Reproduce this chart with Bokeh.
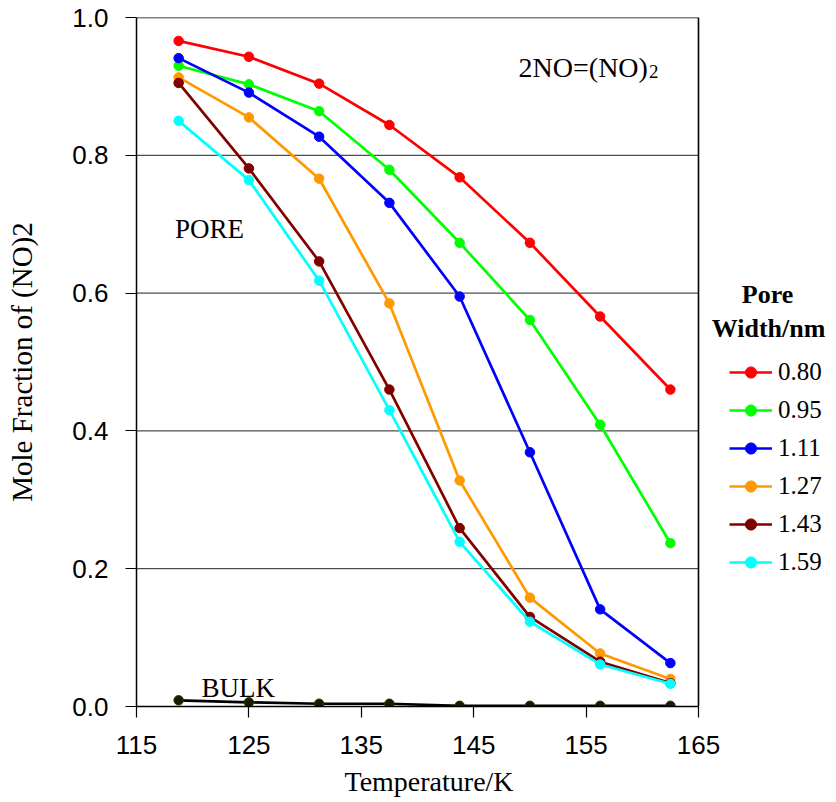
from bokeh.plotting import figure
from bokeh.models import Range1d, Legend, LegendItem, Label, FixedTicker, Title
from bokeh.embed import file_html
from bokeh.resources import INLINE

temps = [118.75, 125.0, 131.25, 137.5, 143.75, 150.0, 156.25, 162.5]
w080 = [0.966, 0.943, 0.904, 0.844, 0.768, 0.673, 0.566, 0.460]
w095 = [0.930, 0.903, 0.864, 0.779, 0.673, 0.561, 0.409, 0.237]
w111 = [0.941, 0.891, 0.827, 0.731, 0.595, 0.369, 0.141, 0.063]
w127 = [0.913, 0.855, 0.766, 0.585, 0.328, 0.158, 0.077, 0.040]
w143 = [0.905, 0.781, 0.646, 0.460, 0.259, 0.130, 0.065, 0.034]
w159 = [0.850, 0.764, 0.618, 0.430, 0.239, 0.123, 0.061, 0.033]
bulk = [0.009, 0.006, 0.004, 0.004, 0.001, 0.001, 0.001, 0.001]

series_names = ["0.80", "0.95", "1.11", "1.27", "1.43", "1.59"]
series_values = [w080, w095, w111, w127, w143, w159]
series_colors = ["#FF0000", "#00FF00", "#0000FF", "#FF9900", "#800000", "#00FFFF"]

x_ticks = [115, 125, 135, 145, 155, 165]
y_ticks = [0.0, 0.2, 0.4, 0.6, 0.8, 1.0]

SERIF = "Liberation Serif"
SANS = "Liberation Sans"

X0, X1 = x_ticks[0], x_ticks[-1]
Y0, Y1 = y_ticks[0], y_ticks[-1]

p = figure(frame_width=698, frame_height=689,
           x_range=Range1d(X0, 177.1), y_range=Range1d(Y0, Y1),
           output_backend="svg", toolbar_location=None,
           min_border_left=136, min_border_top=17, min_border_right=0,
           min_border_bottom=0, background_fill_color="white",
           border_fill_color="white")

p.outline_line_color = None
p.xgrid.grid_line_color = None
p.ygrid.grid_line_color = None

# plot box (grid lines and box edges limited to the data area)
grid_y = y_ticks[1:-1]
p.segment(x0=[X0] * len(grid_y), y0=grid_y, x1=[X1] * len(grid_y), y1=grid_y,
          line_color="#222222", line_width=1)
p.segment(x0=[X1, X0], y0=[Y0, Y1], x1=[X1, X1], y1=[Y1, Y1],
          line_color="black", line_width=1.6)

p.xaxis.ticker = FixedTicker(ticks=x_ticks)
p.yaxis.ticker = FixedTicker(ticks=y_ticks)
p.xaxis.bounds = (X0, X1)
p.yaxis.major_label_overrides = {t: f"{t:.1f}" for t in y_ticks}

for ax in (p.xaxis[0], p.yaxis[0]):
    ax.axis_line_color = "black"
    ax.axis_line_width = 1.5
    ax.major_tick_line_color = "black"
    ax.major_tick_line_width = 1.2
    ax.major_tick_out = 11
    ax.major_tick_in = 0
    ax.minor_tick_line_color = None
    ax.major_label_text_font = SANS
    ax.major_label_text_font_size = "26px"
    ax.major_label_text_color = "black"
    ax.axis_label_text_font = SERIF
    ax.axis_label_text_font_style = "normal"
    ax.axis_label_text_color = "black"

p.yaxis.axis_label = "Mole Fraction of (NO)2"
p.yaxis.axis_label_text_font_size = "29px"
p.xaxis.major_label_standoff = 18
p.yaxis.major_label_standoff = 17
p.yaxis.axis_label_standoff = 31

xtitle = Title(text="Temperature/K", align="left", offset=208,
               text_font=SERIF, text_font_size="28px",
               text_font_style="normal", text_color="black", standoff=14)
p.add_layout(xtitle, "below")

items = []
for name, vals, col in zip(series_names, series_values, series_colors):
    r1 = p.line(temps, vals, line_color=col, line_width=2.7)
    r2 = p.scatter(temps, vals, size=9.5, fill_color=col, line_color=col)
    items.append(LegendItem(label=name, renderers=[r1, r2]))

p.line(temps, bulk, line_color="black", line_width=2.7)
p.scatter(temps, bulk, size=9.5, fill_color="#1a1a00", line_color="#333300")

legend = Legend(items=items, location=(593, 130),
                label_text_font=SERIF, label_text_font_size="25px",
                label_text_color="black",
                glyph_width=43, glyph_height=28, label_height=28,
                label_standoff=6, spacing=10, padding=0, margin=0,
                border_line_color=None, background_fill_alpha=0)
p.add_layout(legend)

def lab(text, x, y, size, align="center", style="normal"):
    p.add_layout(Label(x=x, y=y, text=text, text_font=SERIF,
                       text_font_size=size, text_align=align,
                       text_baseline="alphabetic", text_color="black",
                       text_font_style=style))

lab("Pore", 171.14, 0.5975, "26px", style="bold")
lab("Width/nm", 171.23, 0.548, "26px", style="bold")
lab("PORE", 121.5, 0.693, "27px")
lab("BULK", 124.05, 0.027, "27px")
lab("2NO=(NO)", 160.5, 0.9279, "28px", align="right")
lab("2", 160.6, 0.9216, "19px", align="left")

open("out.html", "w").write(file_html(p, INLINE))
